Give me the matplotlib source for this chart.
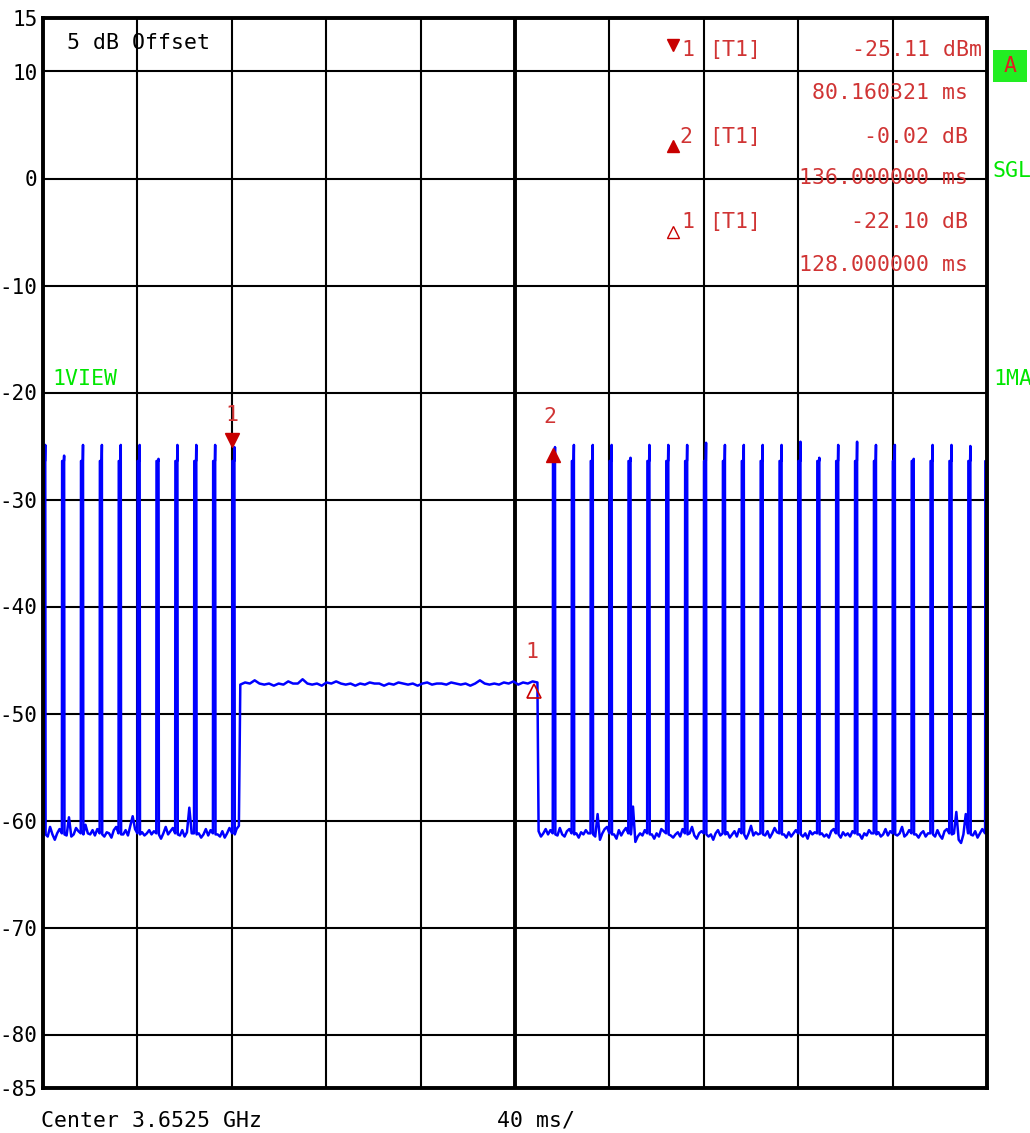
import numpy as np
import matplotlib
matplotlib.use("Agg")
import matplotlib.pyplot as plt
import matplotlib.transforms as mtransforms
from matplotlib.lines import Line2D
from matplotlib.patches import Rectangle

# --- 1. DATA ---
y_ticks = [15, 10, 0, -10, -20, -30, -40, -50, -60, -70, -80, -85]
grid_db = [10, 0, -10, -20, -30, -40, -50, -60, -70, -80]
grid_ms = [40, 80, 120, 160, 240, 280, 320, 360]
center_ms = 200

# burst pulses (ms, peak dBm)
left_pulse_ms = [0, 8, 16, 24, 32, 40, 48, 56, 64, 72, 80.16]
left_pulse_db = [-24.9, -25.9, -24.9, -24.9, -24.9, -24.9, -26.2, -24.9, -24.9, -24.9, -25.1]
right_pulse_ms = [216, 224, 232, 240, 248, 256, 264, 272, 280, 288, 296, 304,
                  312, 320, 328, 336, 344, 352, 360, 368, 376, 384, 392, 399.2]
right_pulse_db = [-25.1, -24.9, -24.9, -24.9, -26.1, -24.9, -24.9, -24.9, -24.7, -24.9, -24.9, -24.9,
                  -24.9, -24.6, -26.1, -24.9, -24.6, -24.9, -24.9, -26.2, -24.9, -24.9, -25.0, -26.4]
pulse_hold_db = -26.4

# noise floor, 1 ms steps starting at 0 ms
left_floor_db = [
    -61.0, -61.0, -61.5, -60.6, -61.3, -61.8, -61.2, -60.8,
    -61.0, -61.0, -61.4, -59.7, -61.5, -61.3, -60.7, -61.0,
    -61.0, -61.0, -60.4, -61.2, -61.3, -60.9, -61.4, -60.8,
    -61.0, -61.0, -61.5, -61.1, -61.2, -61.6, -60.9, -60.6,
    -61.0, -61.0, -61.3, -60.9, -61.4, -60.5, -59.6, -60.8,
    -61.0, -61.0, -61.1, -61.4, -61.2, -60.9, -61.3, -61.0,
    -61.0, -61.0, -61.7, -61.2, -60.6, -61.3, -61.0, -60.7,
    -61.0, -61.0, -61.4, -60.9, -61.5, -61.1, -58.8, -61.2,
    -61.0, -61.0, -61.2, -61.6, -61.3, -60.8, -61.4, -60.9,
    -61.0, -61.0, -61.3, -61.5, -61.0, -61.6, -61.2, -60.7,
    -61.0, -61.0, -60.8, -60.5,
]

# gap between the bursts, ~84 .. 209 ms
plateau_db = [
    -47.3, -47.1, -47.2, -46.9, -47.2, -47.3, -47.2, -47.4, -47.2, -47.3,
    -47.0, -47.2, -47.2, -46.8, -47.2, -47.3, -47.2, -47.4, -47.1, -47.2,
    -47.0, -47.2, -47.3, -47.2, -47.4, -47.2, -47.3, -47.1, -47.2, -47.2,
    -47.4, -47.2, -47.3, -47.1, -47.2, -47.3, -47.2, -47.4, -47.2, -47.1,
    -47.3, -47.2, -47.2, -47.3, -47.1, -47.2, -47.3, -47.2, -47.4, -47.2,
    -46.9, -47.2, -47.3, -47.2, -47.3, -47.1, -47.2, -47.0, -47.3, -47.1,
    -47.2, -47.0, -47.1,
]

# noise floor, 1 ms steps starting at 210 ms
right_floor_db = [
    -61.0, -61.5, -61.2, -60.8, -61.3, -60.9,
    -61.0, -61.0, -61.4, -60.7, -61.3, -61.5, -61.0, -60.8,
    -61.0, -61.0, -61.2, -61.6, -61.1, -61.3, -60.9, -61.2,
    -61.0, -61.0, -61.5, -59.4, -61.8, -61.2, -60.8, -60.6,
    -61.0, -61.0, -61.3, -61.7, -60.9, -61.4, -61.0, -60.7,
    -61.0, -61.0, -58.7, -62.0, -61.5, -61.2, -61.4, -60.9,
    -61.0, -61.0, -61.3, -61.7, -61.2, -61.5, -60.8, -61.0,
    -61.0, -61.0, -61.4, -61.6, -61.3, -61.1, -61.5, -60.8,
    -61.0, -61.0, -61.2, -60.6, -61.4, -61.7, -61.2, -61.0,
    -61.0, -61.0, -61.5, -61.3, -61.8, -61.2, -60.9, -61.4,
    -61.0, -61.0, -61.1, -61.6, -61.3, -61.0, -61.5, -60.8,
    -61.0, -61.0, -61.7, -61.2, -60.5, -61.4, -61.1, -61.3,
    -61.0, -61.0, -61.4, -61.0, -61.6, -61.2, -60.7, -61.1,
    -61.0, -61.0, -61.3, -61.6, -61.1, -61.5, -61.2, -60.9,
    -61.0, -61.0, -61.5, -61.2, -61.7, -61.0, -61.3, -61.1,
    -61.0, -61.0, -61.2, -61.5, -61.3, -61.6, -61.0, -60.8,
    -61.0, -61.0, -61.6, -61.1, -61.4, -61.2, -61.5, -61.0,
    -61.0, -61.0, -61.3, -61.7, -61.2, -61.4, -60.9, -61.2,
    -61.0, -61.0, -61.1, -61.5, -61.3, -60.8, -61.4, -61.0,
    -61.0, -61.0, -61.4, -61.2, -60.6, -61.5, -61.3, -60.9,
    -61.0, -61.0, -61.3, -61.6, -61.2, -61.0, -61.5, -61.2,
    -61.0, -61.0, -61.5, -60.9, -61.4, -61.7, -61.0, -60.8,
    -61.0, -61.0, -61.2, -59.2, -61.8, -62.1, -61.3, -59.4,
    -61.0, -61.0, -61.4, -61.0, -61.6, -61.2, -60.8, -61.1,
    -61.0,
]

# markers: (ms, dB)
m1 = (80.16, -25.11)
m2 = (216.0, -25.13)
d1 = (208.0, -47.21)

table_rows = [
    ("-25.11 dBm", "80.160321 ms"),
    ("-0.02 dB", "136.000000 ms"),
    ("-22.10 dB", "128.000000 ms"),
]

# --- 2. BUILD THE TRACE ---
pulses = list(zip(left_pulse_ms + right_pulse_ms, left_pulse_db + right_pulse_db))
floor_t = np.concatenate([
    np.arange(len(left_floor_db)),
    np.linspace(83.6, 209.5, len(plateau_db)),
    210 + np.arange(len(right_floor_db)),
])
floor_v = np.concatenate([left_floor_db, plateau_db, right_floor_db])

pts = []
for t, v in zip(floor_t, floor_v):
    if not any(p - 0.2 <= t <= p + 1.3 for p, _ in pulses):
        pts.append((t, v))
for p, pk in pulses:
    pts += [(p, -61.2), (p + 0.1, pulse_hold_db), (p + 0.85, pulse_hold_db),
            (p + 0.95, pk), (p + 1.1, -61.3)]
pts.sort()
trace_t = [a for a, _ in pts]
trace_v = [b for _, b in pts]

# --- 3. PLOT ---
W, H = 1030, 1133
fig = plt.figure(figsize=(W / 100, H / 100), dpi=100)
fig.patch.set_facecolor("white")

def fx(px):
    return px / W

def fy(py):
    return 1 - py / H

ax = fig.add_axes([fx(43), fy(1088), (987 - 43) / W, (1088 - 18) / H])
ax.set_xlim(0, 400)
ax.set_ylim(-85, 15)

for g in grid_db:
    ax.axhline(g, color="black", lw=1.5, zorder=1)
for g in grid_ms:
    ax.axvline(g, color="black", lw=1.5, zorder=1)
ax.axvline(center_ms, color="black", lw=2.8, zorder=1)

for s in ax.spines.values():
    s.set_linewidth(2.8)
    s.set_zorder(5)

ax.plot(trace_t, trace_v, color="#0000ff", lw=1.8, zorder=3, clip_on=True)

FONT = ["DejaVu Sans Mono", "DejaVu Sans"]
FS = 15.5
RED_T = "#d03434"
RED_M = "#c80000"
GREEN = "#00e600"

ax.set_xticks([])
ax.set_yticks(y_ticks)
ax.set_yticklabels([str(v) for v in y_ticks], family=FONT, fontsize=15)
ax.tick_params(axis="y", length=0, pad=4)

# markers on the trace
up = mtransforms.offset_copy(ax.transData, fig=fig, x=0, y=7.5, units="dots")
down = mtransforms.offset_copy(ax.transData, fig=fig, x=0, y=-7.5, units="dots")
ax.plot([m1[0]], [m1[1]], marker="v", ms=10, color=RED_M, transform=up, zorder=4, clip_on=False)
ax.plot([m2[0]], [m2[1]], marker="^", ms=10, color=RED_M, transform=down, zorder=4, clip_on=False)
ax.plot([d1[0]], [d1[1]], marker="^", ms=10, mfc="none", mec=RED_M, mew=1.2,
        transform=down, zorder=4, clip_on=False)
ax.annotate("1", xy=m1, xytext=(0, 32), textcoords="offset pixels", ha="center", va="center",
            color=RED_T, family=FONT, fontsize=FS)
ax.annotate("2", xy=m2, xytext=(-3, 30), textcoords="offset pixels", ha="center", va="center",
            color=RED_T, family=FONT, fontsize=FS)
ax.annotate("1", xy=d1, xytext=(-2, 32), textcoords="offset pixels", ha="center", va="center",
            color=RED_T, family=FONT, fontsize=FS)

# marker table, top right
row_y = [(50, 93), (137, 178), (222, 265)]
for i, ((val, ms), (y1, y2)) in enumerate(zip(table_rows, row_y)):
    right = 982 if i == 0 else 968
    fig.text(fx(right), fy(y1), val, ha="right", va="center", color=RED_T, family=FONT, fontsize=FS)
    fig.text(fx(968), fy(y2), ms, ha="right", va="center", color=RED_T, family=FONT, fontsize=FS)
    fig.text(fx(709), fy(y1), "[T1]", ha="left", va="center", color=RED_T, family=FONT, fontsize=FS)

fig.add_artist(Line2D([fx(673)], [fy(45)], marker="v", ms=8, color=RED_M, transform=fig.transFigure))
fig.text(fx(681), fy(50), "1", ha="left", va="center", color=RED_T, family=FONT, fontsize=FS)
fig.add_artist(Line2D([fx(673)], [fy(146)], marker="^", ms=8, color=RED_M, transform=fig.transFigure))
fig.text(fx(679), fy(137), "2", ha="left", va="center", color=RED_T, family=FONT, fontsize=FS)
fig.add_artist(Line2D([fx(673)], [fy(232)], marker="^", ms=8, mfc="none", mec=RED_M, mew=1.0,
                      transform=fig.transFigure))
fig.text(fx(681), fy(222), "1", ha="left", va="center", color=RED_T, family=FONT, fontsize=FS)

# status labels
fig.text(fx(67), fy(43), "5 dB Offset", ha="left", va="center", color="black", family=FONT, fontsize=FS)
fig.text(fx(52), fy(379), "1VIEW", ha="left", va="center", color=GREEN, family=FONT, fontsize=FS)
fig.text(fx(993), fy(379), "1MA", ha="left", va="center", color=GREEN, family=FONT, fontsize=FS)
fig.text(fx(993), fy(171), "SGL", ha="left", va="center", color=GREEN, family=FONT, fontsize=FS)
fig.add_artist(Rectangle((fx(993), fy(82)), (1027 - 993) / W, (82 - 50) / H,
                         transform=fig.transFigure, facecolor="#22ee22", edgecolor="none"))
fig.text(fx(1010), fy(66), "A", ha="center", va="center", color="#e02020", family=FONT, fontsize=FS)

fig.text(fx(41), fy(1121), "Center 3.6525 GHz", ha="left", va="center", color="black",
         family=FONT, fontsize=FS)
fig.text(fx(497), fy(1121), "40 ms/", ha="left", va="center", color="black", family=FONT, fontsize=FS)

fig.savefig("out.png", dpi=100)
